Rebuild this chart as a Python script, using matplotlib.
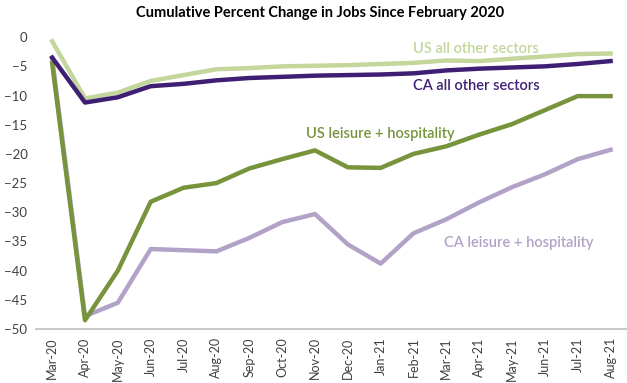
import numpy as np
import matplotlib
matplotlib.use("Agg")
import matplotlib.pyplot as plt

plt.rcParams['font.family'] = ['Lato', 'DejaVu Sans']

monate = ["Mar-20", "Apr-20", "May-20", "Jun-20", "Jul-20", "Aug-20", "Sep-20",
          "Oct-20", "Nov-20", "Dec-20", "Jan-21", "Feb-21", "Mar-21", "Apr-21",
          "May-21", "Jun-21", "Jul-21", "Aug-21"]

# Prozentuale Veraenderung seit Februar 2020
us_other = [-0.7, -10.5, -9.5, -7.5, -6.5, -5.5, -5.3, -5.0, -4.9, -4.8, -4.6,
            -4.4, -4.0, -4.1, -3.7, -3.3, -2.9, -2.8]
ca_other = [-3.5, -11.2, -10.3, -8.4, -8.0, -7.4, -7.0, -6.8, -6.6, -6.5, -6.4,
            -6.2, -5.7, -5.4, -5.2, -5.0, -4.6, -4.1]
us_leisure = [-4.5, -48.5, -40.0, -28.2, -25.8, -25.0, -22.5, -20.9, -19.4, -22.3,
              -22.4, -20.0, -18.7, -16.7, -14.9, -12.5, -10.1, -10.1]
ca_leisure = [-3.6, -47.8, -45.5, -36.3, -36.5, -36.7, -34.4, -31.7, -30.3, -35.5,
              -38.8, -33.6, -31.2, -28.3, -25.7, -23.5, -20.9, -19.3]

hellgruen = "#c3d69b"
lila = "#3f1f73"
oliv = "#77933c"
lavendel = "#b3a2c7"

x = np.arange(len(monate))

fig = plt.figure(figsize=(6.27, 3.83), dpi=100)
ax = fig.add_axes([0.057, 0.141, 0.943, 0.762])

ax.plot(x, ca_leisure, color=lavendel, lw=3.2, clip_on=False)
ax.plot(x, us_leisure, color=oliv, lw=3.2, clip_on=False)
ax.plot(x, us_other, color=hellgruen, lw=3.2, clip_on=False)
ax.plot(x, ca_other, color=lila, lw=3.2, clip_on=False)

ax.text(12.9, -2.05, "US all other sectors", color=hellgruen, fontsize=10.5,
        fontweight="semibold", ha="center", va="center")
ax.text(12.9, -8.4, "CA all other sectors", color=lila, fontsize=10.5,
        fontweight="semibold", ha="center", va="center")
ax.text(10.0, -16.6, "US leisure + hospitality", color=oliv, fontsize=10.5,
        fontweight="semibold", ha="center", va="center")
ax.text(14.2, -35.3, "CA leisure + hospitality", color=lavendel, fontsize=10.5,
        fontweight="semibold", ha="center", va="center")

ax.set_xlim(-0.5, len(monate) - 0.5)
ax.set_ylim(-50, 0)
ax.set_yticks(np.arange(-50, 1, 5))
ax.set_xticks(x)
ax.set_xticklabels(monate, rotation=90, fontsize=9, color="#404040")
ax.tick_params(axis="y", length=0, labelsize=9.5, labelcolor="#404040", pad=6)
ax.tick_params(axis="x", length=0, pad=6)

for s in ["top", "right", "left"]:
    ax.spines[s].set_visible(False)
ax.spines["bottom"].set_color("#bfbfbf")
ax.spines["bottom"].set_linewidth(1.2)

fig.text(0.51, 0.965, "Cumulative Percent Change in Jobs Since February 2020",
         ha="center", va="center", fontsize=10.5, fontweight="bold")

plt.savefig("out.png", dpi=100)
